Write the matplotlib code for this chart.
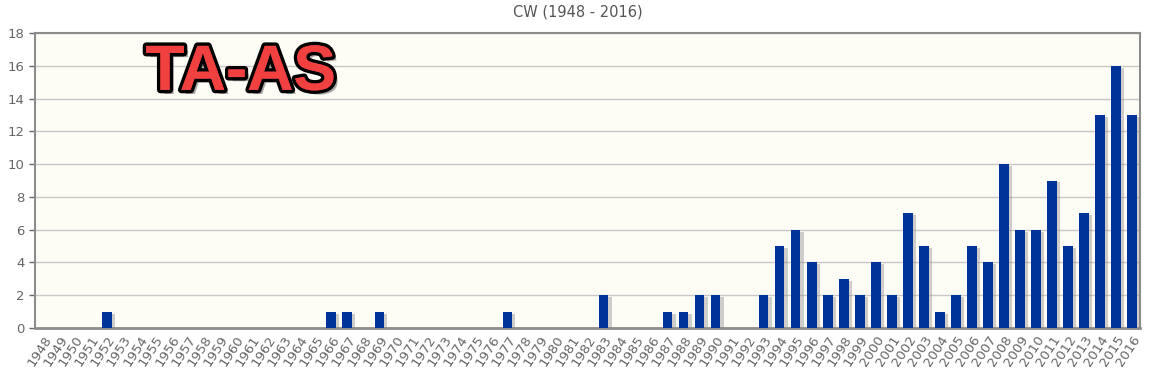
import numpy as np
import matplotlib.pyplot as plt
import matplotlib.patheffects as pe

years = list(range(1948, 2017))
counts = {
    1952: 1, 1966: 1, 1967: 1, 1969: 1, 1977: 1, 1983: 2, 1987: 1, 1988: 1,
    1989: 2, 1990: 2, 1993: 2, 1994: 5, 1995: 6, 1996: 4, 1997: 2, 1998: 3,
    1999: 2, 2000: 4, 2001: 2, 2002: 7, 2003: 5, 2004: 1, 2005: 2, 2006: 5,
    2007: 4, 2008: 10, 2009: 6, 2010: 6, 2011: 9, 2012: 5, 2013: 7, 2014: 13,
    2015: 16, 2016: 13,
}
values = [counts.get(y, 0) for y in years]
y_ticks = list(range(0, 19, 2))

fig = plt.figure(figsize=(11.56, 3.79), dpi=100)
ax = fig.add_axes([35 / 1156, 1 - 328 / 379, 1105 / 1156, 295 / 379])
ax.set_facecolor("#fdfcf5")

x = np.arange(len(years))
# soft shadow behind bars
ax.bar(x + 0.2, np.array(values) - 0.12, width=0.6, color="#888888", alpha=0.4, zorder=2)
ax.bar(x, values, width=0.6, color="#003399", zorder=3)

ax.set_xlim(-0.5, len(years) - 0.5)
ax.set_ylim(0, 18)
ax.set_yticks(y_ticks)
ax.yaxis.grid(True, color="#c8c8c8", linewidth=1)
ax.set_axisbelow(True)
ax.tick_params(axis="y", labelsize=9.5, colors="#666666", length=4, width=1)
ax.tick_params(axis="x", length=0, pad=4)
ax.set_xticks(x)
ax.set_xticklabels([str(y) for y in years], rotation=57, ha="right",
                   rotation_mode="anchor", fontsize=9.5, color="#666666")
for s in ax.spines.values():
    s.set_color("#8c8c8c")
    s.set_linewidth(1.5)
ax.spines["bottom"].set_linewidth(2)

fig.text(0.5, 1 - 12 / 379, "CW (1948 - 2016)", ha="center", va="center",
         fontsize=10.5, color="#555555")

ax.text(0.1, 0.865, "TA-AS", transform=ax.transAxes, ha="left", va="center",
        fontsize=46, fontweight="bold", family="Liberation Sans", color="#f04040",
        zorder=5,
        path_effects=[pe.withSimplePatchShadow(offset=(3, -3), shadow_rgbFace="#555555", alpha=0.5),
                      pe.withStroke(linewidth=5, foreground="black"),
                      pe.Normal()])

fig.savefig("out.png", dpi=100)
